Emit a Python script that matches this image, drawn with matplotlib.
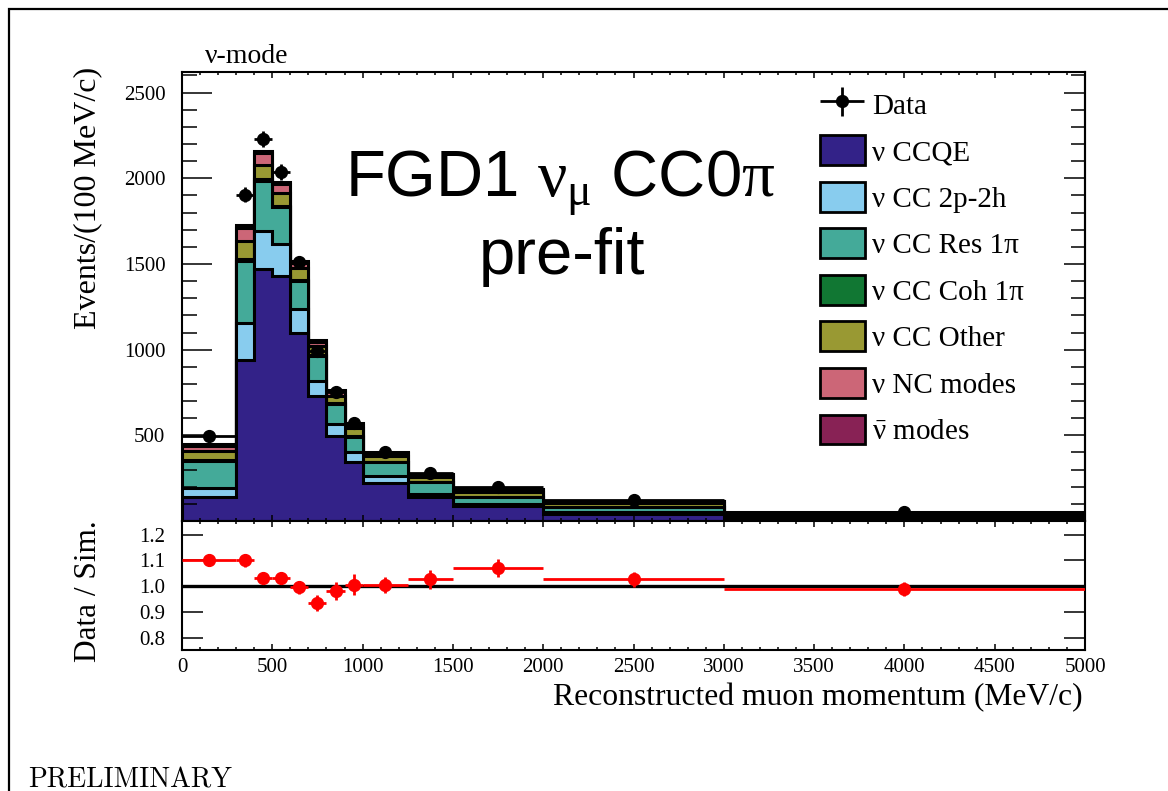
import numpy as np
import matplotlib
matplotlib.use("Agg")
import matplotlib.pyplot as plt
from matplotlib.patches import Patch, Rectangle
from matplotlib.ticker import MultipleLocator, FixedLocator, NullLocator
from matplotlib.legend_handler import HandlerErrorbar
from matplotlib.container import ErrorbarContainer

# ---------------- data ----------------
bin_edges = [0, 300, 400, 500, 600, 700, 800, 900, 1000, 1250, 1500, 2000, 3000, 5000]
bin_centers = [150, 350, 450, 550, 650, 750, 850, 950, 1125, 1375, 1750, 2500, 4000]
bin_halfwidths = [150, 50, 50, 50, 50, 50, 50, 50, 125, 125, 250, 500, 1000]

ccqe = [138, 940, 1473, 1430, 1100, 730, 497, 346, 222, 138, 86, 41, 18]
cc2p2h = [55, 214, 219, 188, 135, 88, 68, 54, 38, 19, 13, 13, 4]
ccres = [158, 363, 295, 214, 165, 145, 117, 93, 82, 68, 39, 26, 10]
cccoh = [5, 10, 10, 8, 6, 5, 4, 3, 3, 2, 1, 1, 0.5]
ccother = [50, 106, 83, 75, 72, 54, 44, 44, 37, 30, 32, 25, 12]
ncmodes = [30, 78, 68, 49, 28, 23, 26, 22, 14, 13, 12, 8, 4]
antinu = [12, 14, 14, 13, 11, 10, 9, 8, 6, 5, 5, 4, 2]

data = [497, 1905, 2230, 2036, 1510, 990, 752, 574, 405, 283, 201, 121, 50]
data_err = [13, 44, 47, 45, 39, 31, 27, 24, 13, 11, 6, 3.5, 1.6]
ratio = [1.103, 1.100, 1.030, 1.030, 0.995, 0.933, 0.982, 1.006, 1.006, 1.026, 1.071, 1.026, 0.990]
ratio_err = [0.022, 0.024, 0.022, 0.023, 0.026, 0.031, 0.036, 0.042, 0.031, 0.038, 0.034, 0.030, 0.028]

labels = ["ν CCQE", "ν CC 2p-2h", "ν CC Res 1π", "ν CC Coh 1π", "ν CC Other",
          "ν NC modes", r"$\bar{\nu}$ modes"]
colors = ["#332288", "#88CCEE", "#44AA99", "#117733", "#999933", "#CC6677", "#882255"]

# ---------------- style ----------------
plt.rcParams["font.family"] = ["Liberation Serif", "DejaVu Serif"]
plt.rcParams["mathtext.fontset"] = "custom"
plt.rcParams["mathtext.rm"] = "Liberation Serif"
plt.rcParams["mathtext.it"] = "Liberation Serif"
plt.rcParams["mathtext.bf"] = "Liberation Serif:bold"

W, H = 1168, 791
def rect(x0, y0, x1, y1):
    return [x0 / W, 1 - y1 / H, (x1 - x0) / W, (y1 - y0) / H]

fig = plt.figure(figsize=(W / 100, H / 100), dpi=100)

# outer frame
fig.add_artist(Rectangle((9 / W, -0.05), 1.2, 1 - 9 / H + 0.05, transform=fig.transFigure,
                         fill=False, edgecolor="k", lw=1.6, zorder=0))

ax = fig.add_axes(rect(182, 71.7, 1085, 521))
ax2 = fig.add_axes(rect(182, 521, 1085, 650))

# ---------------- stacked histogram ----------------
layers = [ccqe, cc2p2h, ccres, cccoh, ccother, ncmodes, antinu]
cum = np.cumsum(np.array(layers, dtype=float), axis=0)
for k in range(len(layers) - 1, -1, -1):
    z = 1 + (len(layers) - 1 - k) * 0.2
    ax.stairs(cum[k], bin_edges, baseline=0, fill=True, facecolor=colors[k],
              edgecolor="k", linewidth=2.2, zorder=z)

eb = ax.errorbar(bin_centers, data, xerr=bin_halfwidths, yerr=data_err, fmt="o",
                 color="k", ms=8.5, elinewidth=2, capsize=0, zorder=10)

ax.set_xlim(0, 5000)
ax.set_ylim(0, 2622)
ax.xaxis.set_major_locator(MultipleLocator(500))
ax.xaxis.set_minor_locator(MultipleLocator(100))
ax.yaxis.set_major_locator(FixedLocator([500, 1000, 1500, 2000, 2500]))
ax.yaxis.set_minor_locator(MultipleLocator(100))
ax.tick_params(axis="x", which="both", direction="in", top=True, bottom=True,
               labelbottom=False, width=1.1)
ax.tick_params(axis="x", which="major", length=4.5)
ax.tick_params(axis="x", which="minor", length=2.2)
ax.tick_params(axis="y", which="both", direction="in", left=True, right=False,
               width=1.1, labelsize=15, pad=12)
ax.tick_params(axis="y", which="major", length=21.6)
ax.tick_params(axis="y", which="minor", length=10.8)
for s in ax.spines.values():
    s.set_linewidth(1.5)
    s.set_zorder(20)
ax.xaxis.set_zorder(20)
ax.yaxis.set_zorder(20)

sec = ax.secondary_yaxis("right")
sec.yaxis.set_major_locator(FixedLocator([500, 1000, 1500, 2000, 2500]))
sec.yaxis.set_minor_locator(MultipleLocator(100))
sec.tick_params(axis="y", which="both", direction="in", labelright=False, width=1.1)
sec.tick_params(axis="y", which="major", length=15)
sec.tick_params(axis="y", which="minor", length=10)
sec.spines["right"].set_linewidth(1.5)

# legend
handles = [eb] + [Patch(facecolor=c, edgecolor="k", linewidth=2) for c in colors]
leg = ax.legend(handles, ["Data"] + labels, loc="upper left",
                bbox_to_anchor=(0.706, 0.962), frameon=False, fontsize=21,
                handlelength=1.55, handleheight=1.2, labelspacing=0.54,
                handletextpad=0.25, borderpad=0, borderaxespad=0,
                handler_map={ErrorbarContainer: HandlerErrorbar(xerr_size=0.75, yerr_size=0.5)})

fig.text(205 / W, 1 - 63 / H, "ν-mode", fontsize=20, ha="left", va="baseline")
fig.text(560 / W, 1 - 197 / H, r"FGD1 $\nu_{\mu}$ CC0$\pi$", fontsize=47,
         family=["Liberation Sans", "DejaVu Sans"], ha="center", va="baseline")
fig.text(562 / W, 1 - 274 / H, "pre-fit", fontsize=47,
         family=["Liberation Sans", "DejaVu Sans"], ha="center", va="baseline")

# ---------------- ratio panel ----------------
ax2.axhline(1.0, color="k", lw=2.4, zorder=3)
ax2.errorbar(bin_centers, ratio, xerr=bin_halfwidths, yerr=ratio_err, fmt="o",
             color="red", ms=8.5, elinewidth=2, capsize=0, zorder=5)
ax2.set_xlim(0, 5000)
ax2.set_ylim(0.752, 1.253)
ax2.xaxis.set_major_locator(MultipleLocator(500))
ax2.xaxis.set_minor_locator(MultipleLocator(100))
ax2.yaxis.set_major_locator(FixedLocator([0.8, 0.9, 1.0, 1.1, 1.2]))
ax2.yaxis.set_minor_locator(NullLocator())
ax2.set_yticklabels(["0.8", "0.9", "1.0", "1.1", "1.2"])
ax2.tick_params(axis="x", which="both", direction="in", top=True, bottom=True,
                width=1.1, labelsize=15, pad=5.5)
ax2.tick_params(axis="x", which="major", length=4.5)
ax2.tick_params(axis="x", which="minor", length=2.2)
ax2.tick_params(axis="y", which="major", direction="in", left=True, right=True,
                length=15, width=1.1, labelsize=15, pad=12)
for s in ax2.spines.values():
    s.set_linewidth(1.5)

fig.text(88 / W, 1 - 67 / H, "Events/(100 MeV/c)", fontsize=23, rotation=90,
         ha="center", va="top")
fig.text(88 / W, 1 - 591 / H, "Data / Sim.", fontsize=22.5, rotation=90,
         ha="center", va="center")
fig.text(1083 / W, 1 - 705 / H, "Reconstructed muon momentum (MeV/c)", fontsize=22.8,
         ha="right", va="baseline")
fig.text(28 / W, 1 - 787 / H, "PRELIMINARY", fontsize=20, family="cmr10",
         ha="left", va="baseline")

fig.savefig("out.png", dpi=100)
